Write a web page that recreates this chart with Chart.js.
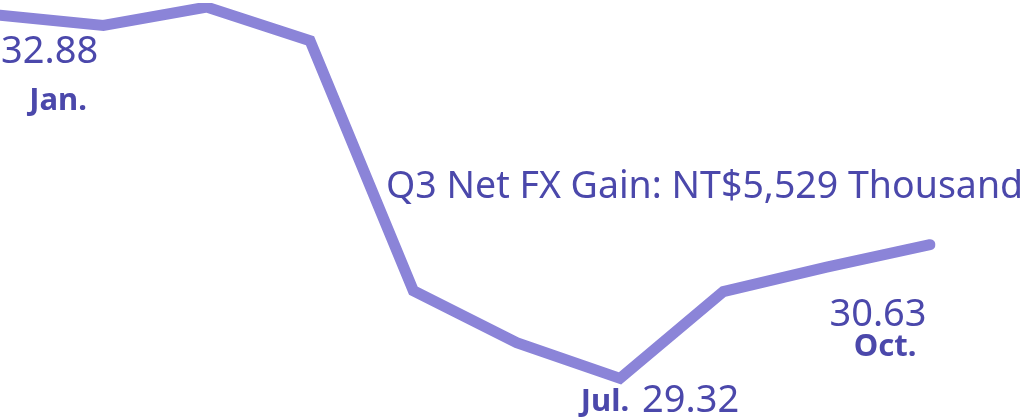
<!DOCTYPE html>
<html>
<head>
<meta charset="utf-8">
<script src="https://cdn.jsdelivr.net/npm/chart.js@4"></script>
<style>
  html, body { margin: 0; padding: 0; background: #fff; }
  #wrap { width: 1024px; height: 419px; position: relative; }
</style>
</head>
<body>
<div id="wrap"><canvas id="fxChart"></canvas></div>
<script>
// monthly USD/TWD rate
const months = ['Jan.', 'Feb.', 'Mar.', 'Apr.', 'May', 'Jun.', 'Jul.', 'Aug.', 'Sep.', 'Oct.'];
const rates = [32.88, 32.78, 32.96, 32.63, 30.18, 29.67, 29.32, 30.17, 30.41, 30.63];
const title = 'Q3 Net FX Gain: NT$5,529 Thousand';

const lineColor = '#8b84d8';
const textColor = '#4b48ab';
const fontFamily = '"Noto Sans", "Open Sans", sans-serif';

// labels drawn next to a few points
const callouts = {
    id: 'callouts',
    afterDatasetsDraw(chart) {
        const ctx = chart.ctx;
        const x = chart.scales.x, y = chart.scales.y;
        const px = i => x.getPixelForValue(i);
        const py = i => y.getPixelForValue(rates[i]);
        ctx.save();
        ctx.fillStyle = textColor;
        ctx.textBaseline = 'middle';

        ctx.font = '38px ' + fontFamily;
        ctx.textAlign = 'left';
        ctx.fillText(rates[0].toFixed(2), px(0) + 1, py(0) + 37);
        ctx.fillText(rates[6].toFixed(2), px(6) + 22, py(6) + 23);
        ctx.textAlign = 'center';
        ctx.fillText(rates[9].toFixed(2), px(9) - 52, py(9) + 70);

        ctx.font = 'bold 31px ' + fontFamily;
        ctx.fillText(months[0], px(0) + 58, py(0) + 86);
        ctx.fillText(months[6], px(6) - 15, py(6) + 24);
        ctx.fillText(months[9], px(9) - 45, py(9) + 102);

        ctx.font = '37.5px ' + fontFamily;
        ctx.textAlign = 'left';
        ctx.fillText(title, 386, 187);
        ctx.restore();
    }
};

new Chart(document.getElementById('fxChart').getContext('2d'), {
    type: 'line',
    data: {
        labels: months,
        datasets: [{
            data: rates,
            borderColor: lineColor,
            borderWidth: 11,
            borderCapStyle: 'round',
            borderJoinStyle: 'miter',
            pointRadius: 0,
            tension: 0,
            fill: false
        }]
    },
    options: {
        responsive: true,
        maintainAspectRatio: false,
        animation: false,
        layout: { padding: { left: 0, right: 94, top: 3, bottom: 8 } },
        plugins: {
            legend: { display: false },
            tooltip: { enabled: false }
        },
        scales: {
            x: { display: false },
            y: { display: false, min: 29, max: 33 }
        }
    },
    plugins: [callouts]
});
</script>
</body>
</html>
